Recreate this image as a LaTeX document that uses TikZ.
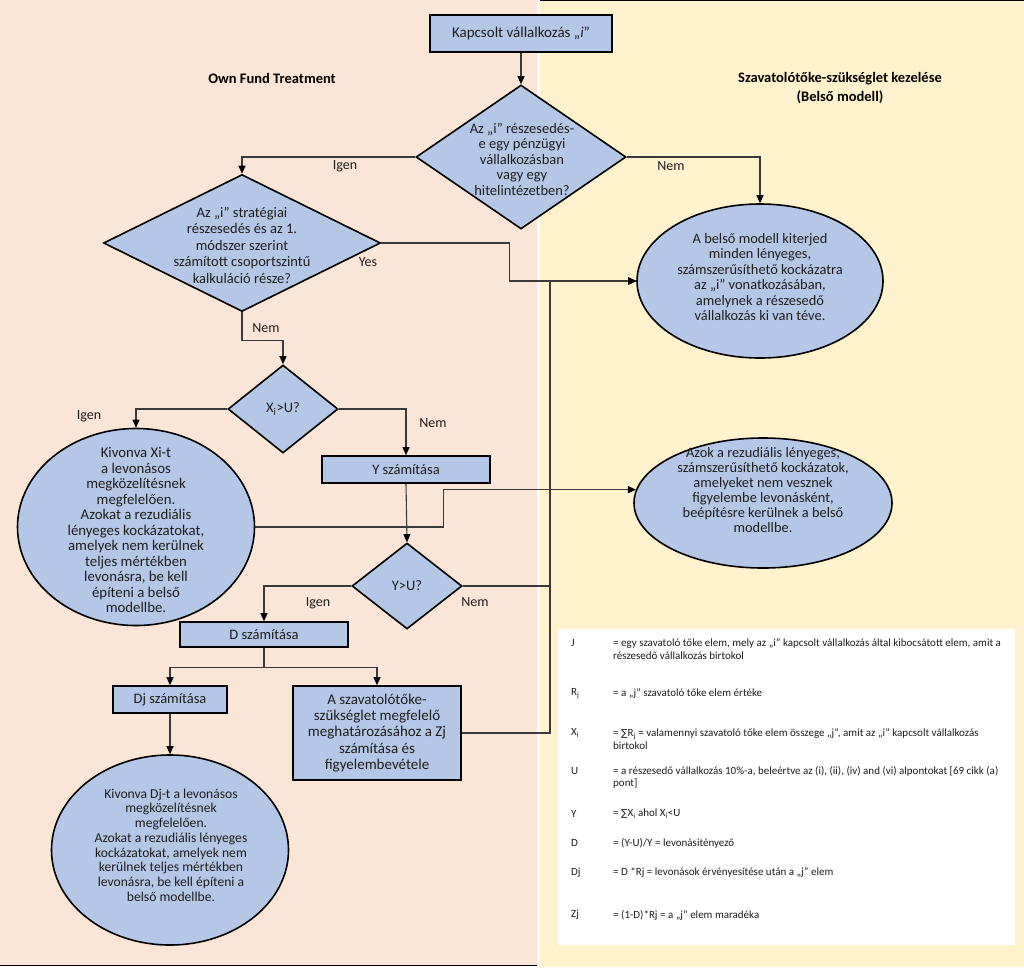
\documentclass[tikz,border=0pt]{standalone}
\usepackage{fontspec}
\setmainfont{Carlito}
\newfontfamily\dejavu{DejaVu Sans}
\usetikzlibrary{shapes.geometric,arrows.meta,calc}
\definecolor{nodeblue}{HTML}{B4C7E7}
\definecolor{pinkbg}{HTML}{FBE5D6}
\definecolor{yellowbg}{HTML}{FFF2CC}
\definecolor{linegray}{HTML}{3A3A3A}
\definecolor{txtcol}{HTML}{1E1E1E}
\newcommand{\sumsym}{{\dejavu\fontsize{9.5}{12}\selectfont ∑}}
\begin{document}
\begin{tikzpicture}[x=1pt,y=-1pt,
  box/.style={draw=black,line width=1.6pt,fill=nodeblue,inner sep=0pt,text=txtcol,font=\fontsize{14.5}{15.5}\selectfont,align=center},
  dia/.style={diamond,draw=black,line width=1.6pt,fill=nodeblue,inner sep=0pt},
  ell/.style={ellipse,draw=black,line width=1.6pt,fill=nodeblue,inner sep=0pt},
  txt/.style={font=\fontsize{14.5}{15.5}\selectfont,text=txtcol,align=center,inner sep=0pt},
  lbl/.style={font=\fontsize{14}{15.5}\selectfont,text=txtcol,inner sep=0pt},
  head/.style={font=\bfseries\fontsize{14.5}{19.5}\selectfont,align=center,inner sep=0pt},
  legl/.style={font=\fontsize{11}{12.3}\selectfont,text=txtcol,align=left,anchor=west,inner sep=0pt},
  conn/.style={draw=linegray,line width=1.1pt},
  arr/.style={conn,-{Triangle[length=8pt,width=7pt,color=black]}}
]
\useasboundingbox (0,0) rectangle (1024,967);
% backgrounds
\fill[white] (0,0) rectangle (1024,967);
\fill[pinkbg] (0,0) rectangle (537,965);
\fill[yellowbg] (540,0) rectangle (1024,967);
\draw[black,line width=1pt] (540,0.5) -- (1024,0.5);
\draw[black,line width=1pt] (0,965.5) -- (537,965.5);

% headings
\node[head] (h1) at (272,78) {Own Fund Treatment};
\node[head] (h2) at (840,88) {Szavatolótőke-szükséglet kezelése\\(Belső modell)};

% nodes
\node[box,minimum width=182,minimum height=37,font=\fontsize{15}{16}\selectfont] (top) at (521,33.5) {Kapcsolt vállalkozás „\textit{i}”};

\node[dia,minimum width=210,minimum height=144] (d1) at (521,157) {};
\node[txt] (d1t) at (522,159) {Az „i” részesedés-\\e egy pénzügyi\\vállalkozásban\\vagy egy\\hitelintézetben?};

\node[dia,minimum width=277,minimum height=137] (d2) at (242,243) {};
\node[txt,font=\fontsize{14.5}{16.5}\selectfont] (d2t) at (242,245) {Az „i” stratégiai\\részesedés és az 1.\\módszer szerint\\számított csoportszintű\\kalkuláció része?};

\node[dia,minimum width=110,minimum height=88] (d3) at (283,409) {};
\node[txt] (d3t) at (283,409) {X\textsubscript{i}>U?};

\node[box,minimum width=168,minimum height=27] (ybox) at (406,469.5) {Y számítása};

\node[dia,minimum width=110,minimum height=86] (d4) at (407,586) {};
\node[txt] (d4t) at (407,586) {Y>U?};

\node[box,minimum width=168,minimum height=25] (dbox) at (264,634.5) {D számítása};
\node[box,minimum width=114,minimum height=27] (dj) at (170,699.5) {Dj számítása};
\node[box,minimum width=168,minimum height=94,font=\fontsize{15}{16.2}\selectfont] (zj) at (377,733) {A szavatolótőke-\\szükséglet megfelelő\\meghatározásához a Zj\\számítása és\\figyelembevétele};

\node[ell,minimum width=237,minimum height=197] (el2) at (136,527) {};
\node[txt,font=\fontsize{14.8}{15.5}\selectfont] (el2t) at (136,530) {Kivonva Xi-t\\a levonásos\\megközelítésnek\\megfelelően.\\Azokat a rezudiális\\lényeges kockázatokat,\\amelyek nem kerülnek\\teljes mértékben\\levonásra, be kell\\építeni a belső\\modellbe.};

\node[ell,minimum width=237,minimum height=190] (el3) at (170,850) {};
\node[txt,font=\fontsize{13.6}{14.7}\selectfont] (el3t) at (171,845) {Kivonva Dj-t a levonásos\\megközelítésnek\\megfelelően.\\Azokat a rezudiális lényeges\\kockázatokat, amelyek nem\\kerülnek teljes mértékben\\levonásra, be kell építeni a\\belső modellbe.};

\node[ell,minimum width=246,minimum height=154] (e1) at (760,281) {};
\node[txt,font=\fontsize{14.4}{15.4}\selectfont] (e1t) at (760,277) {A belső modell kiterjed\\minden lényeges,\\számszerűsíthető kockázatra\\az „i” vonatkozásában,\\amelynek a részesedő\\vállalkozás ki van téve.};

\node[ell,minimum width=258,minimum height=130] (e2) at (763,503) {};
\node[txt,font=\fontsize{14.4}{15}\selectfont] (e2t) at (763,490) {Azok a rezudiális lényeges,\\számszerűsíthető kockázatok,\\amelyeket nem vesznek\\figyelembe levonásként,\\beépítésre kerülnek a belső\\modellbe.};

% connectors
\coordinate (m) at (550,281);
\draw[arr] (top.south) -- (d1.north);
\draw[arr] (d1.west) -| (d2.north);
\draw[arr] (d1.east) -| (e1.north);
\draw[arr] (d2.east) -- ++(128,0) |- (e1.west);
\draw[arr] (d2.south) -- ++(0,28) -| (d3.north);
\draw[arr] (d3.west) -| (el2.north);
\draw[arr] (d3.east) -| (ybox.north);
\draw[arr] (ybox.south) -- (d4.north);
\draw[arr] (el2.east) -- ++(188,0) |- (e2.174);
\draw[arr] (d4.east) -| (m) -- (e1.west);
\draw[arr] (zj.east) -| (m) -- (e1.west);
\draw[arr] (d4.west) -| (dbox.north);
\draw[arr] (dbox.south) -- ++(0,20) -| (dj.north);
\draw[arr] (dbox.south) -- ++(0,20) -| (zj.north);
\draw[arr] (dj.south) -- (el3.north);

% connector labels
\node[lbl] (l1) at (345,166) {Igen};
\node[lbl] (l2) at (671,166) {Nem};
\node[lbl] (l3) at (368,262) {Yes};
\node[lbl] (l4) at (266,328) {Nem};
\node[lbl] (l5) at (89,416) {Igen};
\node[lbl] (l6) at (433,423) {Nem};
\node[lbl] (l7) at (318,603) {Igen};
\node[lbl] (l8) at (475,602) {Nem};

% legend
\node[fill=white,minimum width=457,minimum height=316,inner sep=0pt,anchor=north west] (leg) at (558,629) {};
\node[legl] (k1) at (571,643) {J};
\node[legl] (v1) at (613,649) {= egy szavatoló tőke elem, mely az „i” kapcsolt vállalkozás által kibocsátott elem, amit a\\részesedő vállalkozás birtokol};
\node[legl] (k2) at (571,693.5) {R\textsubscript{j}};
\node[legl] (v2) at (613,693.5) {= a „j” szavatoló tőke elem értéke};
\node[legl] (k3) at (571,733) {X\textsubscript{i}};
\node[legl] (v3) at (613,739) {= \sumsym R\textsubscript{j} = valamennyi szavatoló tőke elem összege „j”, amit az „i” kapcsolt vállalkozás\\birtokol};
\node[legl] (k4) at (571,771) {U};
\node[legl] (v4) at (613,777) {= a részesedő vállalkozás 10\%-a, beleértve az (i), (ii), (iv) and (vi) alpontokat [69 cikk (a)\\pont]};
\node[legl] (k5) at (571,814) {Y};
\node[legl] (v5) at (613,814) {= \sumsym X\textsubscript{i} ahol X\textsubscript{i}<U};
\node[legl] (k6) at (571,843) {D};
\node[legl] (v6) at (613,843) {= (Y-U)/Y = levonásitényező};
\node[legl] (k7) at (571,872.5) {Dj};
\node[legl] (v7) at (613,872.5) {= D *Rj = levonások érvényesítése után a „j” elem};
\node[legl] (k8) at (571,915) {Zj};
\node[legl] (v8) at (613,915) {= (1-D)*Rj = a „j” elem maradéka};
\end{tikzpicture}
\end{document}
